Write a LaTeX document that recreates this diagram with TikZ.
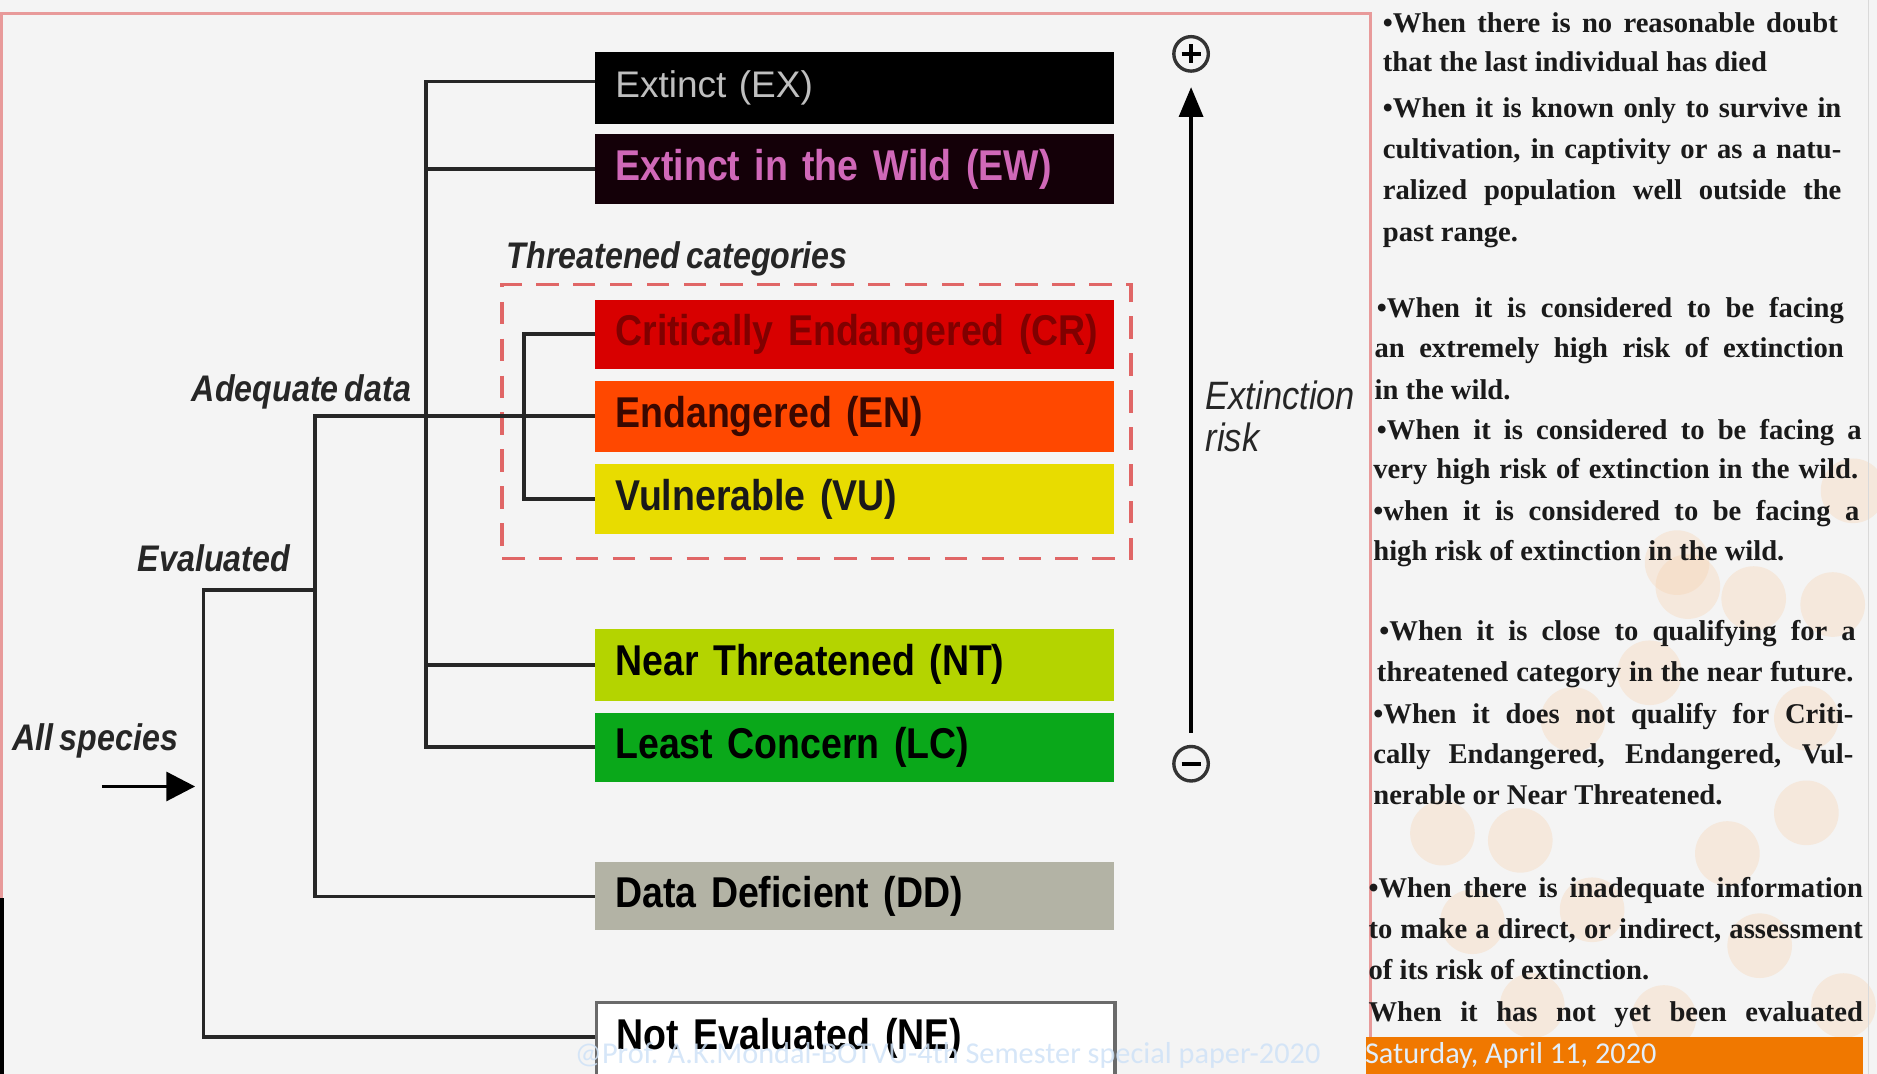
\documentclass[tikz,border=0pt]{standalone}
\usepackage{fontspec}
\setmainfont{Liberation Serif}
\newfontfamily\boxfont[FakeStretch=0.87,WordSpace=0.7]{Liberation Sans}
\newfontfamily\lightfont{Liberation Sans}
\newfontfamily\footfont{Carlito}
\usetikzlibrary{arrows.meta}
\newlength\tu
\setlength\tu{0.025cm}
\definecolor{bgcol}{HTML}{F4F4F4}
\definecolor{framered}{HTML}{E89A9A}
\definecolor{dashred}{HTML}{E06666}
\definecolor{exfill}{HTML}{000000}
\definecolor{ewfill}{HTML}{140008}
\definecolor{ewtext}{HTML}{D068B8}
\definecolor{crfill}{HTML}{D80000}
\definecolor{crtext}{HTML}{800000}
\definecolor{enfill}{HTML}{FF4800}
\definecolor{entext}{HTML}{3A0800}
\definecolor{vufill}{HTML}{E8DC00}
\definecolor{ntfill}{HTML}{B4D400}
\definecolor{lcfill}{HTML}{0AA81A}
\definecolor{ddfill}{HTML}{B3B3A5}
\definecolor{negray}{HTML}{6A6A6A}
\definecolor{peach}{HTML}{F7D3B0}
\definecolor{barorange}{HTML}{F07800}
\definecolor{footblue}{HTML}{CFE2F7}
\definecolor{bodytext}{HTML}{1A1A1A}
\tikzset{
  cat/.style={anchor=north west, minimum width=10.825cm, text width=9.985cm,
    inner xsep=0.42cm, inner ysep=0pt, align=left,
    font=\boxfont\bfseries\fontsize{25.6}{28}\selectfont},
  tree/.style={line width=2.2pt, draw=black!85},
  lbl/.style={inner sep=0pt, font=\boxfont\bfseries\itshape\fontsize{22}{25}\selectfont, text=black!85},
  rt/.style={inner sep=0pt, anchor=base west, text=bodytext,
    font=\bfseries\fontsize{17}{24}\selectfont},
  foot/.style={inner sep=0pt, anchor=base west, font=\footfont\fontsize{18}{20}\selectfont},
  sign/.style={circle, draw=black!80, line width=2pt, minimum size=0.72cm, inner sep=0pt},
}
\newcommand{\jline}[4]{\node[rt] (#1) at (#2) {\makebox[#3\tu][s]{#4}};}
\newcommand{\nline}[3]{\node[rt] (#1) at (#2) {#3};}
\begin{document}
\begin{tikzpicture}[x=0.025cm,y=-0.025cm]
\useasboundingbox (0,0) rectangle (1568,897);
\fill[bgcol] (0,0) rectangle (1568,897);
% right panel decoration
\begin{scope}[opacity=0.35]
\foreach \px/\py in {1410/490,1465/500,1531/505,1548/410,1401/470,1378/562,1314/601,1509/600,1205/696,1270/702,1509/679,1443/713,1230/770,1330/760,1470/790,1540/840,1390/850,1280/840}
  \fill[peach] (\px,\py) circle (27);
\end{scope}
\draw[black!15, line width=1pt] (1561,0) -- (1561,897);
% frame
\draw[framered, line width=1.6pt] (1.5,897) -- (1.5,11) -- (1145,11) -- (1145,897);
\fill[black] (0,750) rectangle (3,897);

% category boxes
\node[cat, fill=exfill, minimum height=1.5cm, text=black!25,
  font=\lightfont\fontsize{22}{26}\selectfont] (ex) at (497,43) {Extinct (EX)};
\node[cat, fill=ewfill, minimum height=1.45cm, text=ewtext] (ew) at (497,112) {Extinct in the Wild (EW)};
\node[cat, fill=crfill, minimum height=1.45cm, text=crtext] (cr) at (497,250) {\mbox{Critically Endangered (CR)}};
\node[cat, fill=enfill, minimum height=1.475cm, text=entext] (en) at (497,318) {Endangered (EN)};
\node[cat, fill=vufill, minimum height=1.475cm, text=black!90] (vu) at (497,387) {Vulnerable (VU)};
\node[cat, fill=ntfill, minimum height=1.5cm, text=black] (nt) at (497,525) {Near Threatened (NT)};
\node[cat, fill=lcfill, minimum height=1.45cm, text=black] (lc) at (497,595) {Least Concern (LC)};
\node[cat, fill=ddfill, minimum height=1.425cm, text=black] (dd) at (497,720) {Data Deficient (DD)};
\node[cat, fill=white, draw=negray, line width=2pt, minimum height=1.75cm, text=black, text depth=0.45cm] (ne) at (497,836) {Not Evaluated (NE)};

% threatened group
\node[anchor=north west, draw=dashred, line width=2.2pt, dash pattern=on 0.47cm off 0.3cm,
  minimum width=13.125cm, minimum height=5.725cm, inner sep=0pt] (thr) at (418,236) {};
\node[lbl, anchor=base west] (thrlbl) at (423,224) {Threatened categories};

% tree connectors
\coordinate (jA) at (356,0);
\coordinate (jT) at (438,0);
\coordinate (jD) at (263,0);
\coordinate (jE) at (170,493);
\coordinate (exin) at (497,68);
\draw[tree] (exin) -- (exin -| jA) -- (lc.west -| jA) -- (lc.west);
\draw[tree] (ew.west) -- (ew.west -| jA);
\draw[tree] (nt.west) -- (nt.west -| jA);
\draw[tree] (cr.west) -- (cr.west -| jT) -- (vu.west -| jT) -- (vu.west);
\draw[tree] (en.west) -- (en.west -| jD) -- (dd.west -| jD) -- (dd.west);
\coordinate (newest) at (497,866);
\draw[tree] (jE -| jD) -- (jE) -- (jE |- newest) -- (newest);

% labels
\node[lbl, anchor=base west] (adq) at (160,335) {Adequate data};
\node[lbl, anchor=base west] (evl) at (115,477) {Evaluated};
\node[lbl, anchor=base west] (alls) at (10,627) {All species};
\coordinate (asStart) at (85,657);
\coordinate (asEnd) at (163,657);
\draw[line width=2.2pt, -{Triangle[length=0.6cm,width=0.6cm]}] (asStart) -- (asEnd);

% extinction risk axis
\node[sign] (plus) at (995,45) {};
\draw[line width=2.2pt] (plus.center) ++(-8,0) -- ++(16,0) (plus.center) ++(0,-8) -- ++(0,16);
\node[sign] (minus) at (995,638) {};
\draw[line width=2.2pt] (minus.center) ++(-8,0) -- ++(16,0);
\draw[line width=2pt, -{Triangle[length=0.62cm,width=0.5cm]}, shorten <=0.25cm, shorten >=0.3cm] (minus) -- (plus);
\node[inner sep=0pt, anchor=north west, align=left, text=black!85,
  font=\boxfont\itshape\fontsize{23.5}{25}\selectfont] (risk) at (1007,318) {Extinction\\risk};

% right text column
\jline{r1}{1155,27}{380}{•When there is no reasonable doubt}
\nline{r2}{1155,60}{that the last individual has died}
\jline{r3}{1155,98}{383}{•When it is known only to survive in}
\jline{r4}{1155,132}{383}{cultivation, in captivity or as a natu-}
\jline{r5}{1155,167}{383}{ralized population well outside the}
\nline{r6}{1155,202}{past range.}
\jline{r7}{1150,265}{390}{•When it is considered to be facing}
\jline{r8}{1148,299}{392}{an extremely high risk of extinction}
\nline{r9}{1148,334}{in the wild.}
\jline{r10}{1150,367}{405}{•When it is considered to be facing a}
\jline{r11}{1147,400}{405}{very high risk of extinction in the wild.}
\jline{r12}{1147,435}{406}{•when it is considered to be facing a}
\nline{r13}{1147,468}{high risk of extinction in the wild.}
\jline{r14}{1152,535}{398}{•When it is close to qualifying for a}
\jline{r15}{1150,569}{398}{threatened category in the near future.}
\jline{r16}{1147,604}{401}{•When it does not qualify for Criti-}
\jline{r17}{1147,638}{401}{cally Endangered, Endangered, Vul-}
\nline{r18}{1147,672}{nerable or Near Threatened.}
\jline{r19}{1143,750}{413}{•When there is inadequate information}
\jline{r20}{1143,784}{413}{to make a direct, or indirect, assessment}
\nline{r21}{1143,818}{of its risk of extinction.}
\jline{r22}{1143,853}{413}{When it has not yet been evaluated}

% footer
\fill[barorange] (1141,866) rectangle (1556,897);
\node[foot, text=footblue, opacity=0.85] (wm) at (480,888) {@Prof. A.K.Mondal-BOTVU-4th Semester special paper-2020};
\node[foot, text=footblue!60!white] (date) at (1140,888) {Saturday, April 11, 2020};
\end{tikzpicture}
\end{document}
